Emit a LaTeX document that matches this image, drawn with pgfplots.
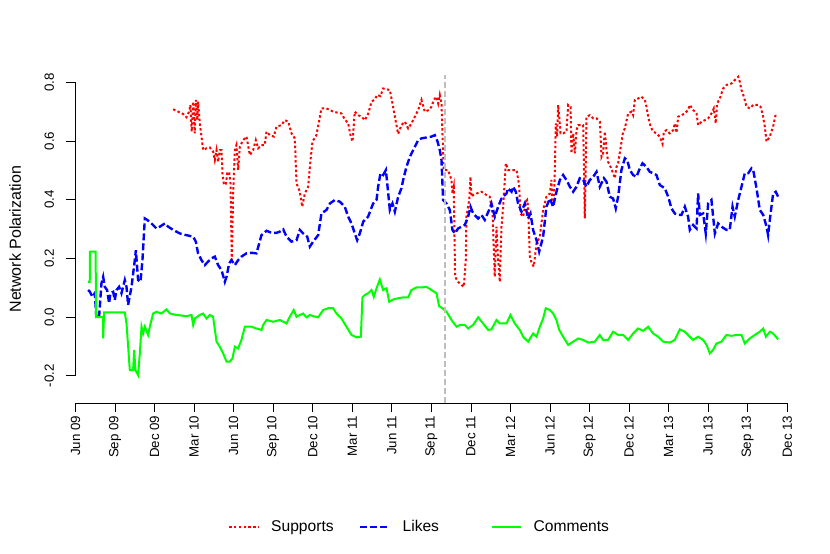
\documentclass[border=0pt]{standalone}
\usepackage{pgfplots}
\pgfplotsset{compat=1.18}
\usepackage{fontspec}
\setmainfont{Liberation Sans}
\definecolor{sred}{RGB}{255,0,0}
\definecolor{sblue}{RGB}{0,0,255}
\definecolor{sgreen}{RGB}{0,255,0}
\definecolor{sgray}{RGB}{190,190,190}
\begin{document}
\begin{tikzpicture}
\useasboundingbox (0bp,0bp) rectangle (830bp,554bp);
\begin{axis}[
  at={(75.5bp,150.7bp)}, anchor=south west,
  scale only axis, width=724.9bp, height=328.3bp,
  xmin=0, xmax=55, ymin=-0.294, ymax=0.825,
  clip=false,
  axis line style={draw=none},
  tick pos=left,
  tick align=outside,
  major tick length=9bp,
  every tick/.style={black, line width=0.8bp},
  xtick={0,3,6,9,12,15,18,21,24,27,30,33,36,39,42,45,48,51,54},
  xticklabels={Jun 09,Sep 09,Dec 09,Mar 10,Jun 10,Sep 10,Dec 10,Mar 11,Jun 11,Sep 11,Dec 11,Mar 12,Jun 12,Sep 12,Dec 12,Mar 13,Jun 13,Sep 13,Dec 13},
  ytick={-0.2,0,0.2,0.4,0.6,0.8},
  yticklabels={-0.2,0.0,0.2,0.4,0.6,0.8},
  tick label style={font=\fontsize{13.3bp}{15bp}\selectfont},
  xticklabel style={rotate=90, anchor=east},
  yticklabel style={rotate=90, anchor=south},
  yticklabel shift=9bp,
  ylabel={Network Polarization},
  every axis y label/.style={at={(axis description cs:-0.0752,0.5)}, rotate=90, anchor=base, font=\fontsize{16bp}{18bp}\selectfont},
  legend columns=3,
  legend style={at={(axis description cs:0.2104,-0.377)}, anchor=west, draw=none, fill=none, inner sep=0pt,
    font=\fontsize{15.6bp}{18bp}\selectfont,
    /tikz/every odd column/.append style={column sep=12bp},
    nodes={inner sep=0pt}},
  legend image code/.code={\draw[#1] (0bp,0bp) -- (29bp,0bp);},
]
\draw[black, line width=0.8bp] (axis cs:0,-0.294) -- (axis cs:54,-0.294);
\draw[black, line width=0.8bp] (axis cs:0,-0.2) -- (axis cs:0,0.8);

\addplot[sred, line width=2bp, dash pattern=on 2.4bp off 2.4bp] coordinates {
(7.41,0.708)(7.79,0.700)(8.17,0.692)(8.42,0.681)(8.62,0.700)(8.72,0.723)(8.82,0.632)(8.93,0.734)(9.05,0.626)(9.13,0.740)(9.23,0.671)(9.30,0.734)(9.43,0.660)(9.56,0.615)(9.68,0.569)(9.94,0.575)(10.19,0.578)(10.44,0.564)(10.57,0.535)(10.70,0.569)(10.82,0.529)(10.95,0.569)(11.08,0.569)(11.15,0.490)(11.25,0.456)(11.40,0.450)(11.51,0.490)(11.66,0.495)(11.76,0.456)(11.86,0.194)(11.96,0.421)(12.09,0.569)(12.21,0.586)(12.34,0.501)(12.47,0.581)(12.72,0.603)(12.97,0.615)(13.23,0.552)(13.48,0.569)(13.68,0.603)(13.86,0.575)(14.11,0.586)(14.36,0.586)(14.49,0.632)(14.74,0.620)(15.05,0.615)(15.25,0.649)(15.63,0.654)(15.88,0.671)(16.14,0.666)(16.39,0.626)(16.64,0.609)(16.77,0.456)(17.02,0.427)(17.20,0.376)(17.40,0.421)(17.65,0.444)(17.83,0.535)(17.98,0.598)(18.28,0.620)(18.66,0.711)(19.04,0.711)(19.55,0.700)(19.93,0.696)(20.18,0.694)(20.43,0.674)(20.69,0.660)(20.86,0.620)(21.02,0.598)(21.19,0.700)(21.45,0.688)(21.70,0.683)(21.95,0.671)(22.20,0.692)(22.46,0.734)(22.71,0.742)(22.89,0.757)(23.14,0.753)(23.34,0.779)(23.60,0.776)(23.85,0.774)(24.05,0.728)(24.23,0.683)(24.48,0.624)(24.73,0.654)(24.99,0.666)(25.24,0.643)(25.49,0.660)(25.75,0.683)(26.00,0.706)(26.25,0.740)(26.50,0.700)(26.83,0.706)(27.01,0.717)(27.19,0.740)(27.39,0.751)(27.52,0.728)(27.64,0.757)(27.77,0.728)(27.89,0.558)(27.94,0.501)(28.27,0.501)(28.53,0.467)(28.60,0.421)(28.70,0.444)(28.80,0.137)(29.03,0.120)(29.29,0.109)(29.46,0.103)(29.61,0.194)(29.66,0.342)(29.87,0.399)(29.97,0.478)(30.04,0.410)(30.17,0.416)(30.42,0.421)(30.80,0.427)(31.18,0.416)(31.43,0.410)(31.64,0.353)(31.81,0.137)(31.94,0.308)(32.07,0.194)(32.19,0.120)(32.32,0.308)(32.45,0.376)(32.57,0.467)(32.65,0.524)(32.83,0.501)(33.46,0.501)(33.66,0.450)(33.76,0.353)(33.96,0.342)(34.17,0.393)(34.27,0.399)(34.34,0.376)(34.47,0.206)(34.62,0.183)(34.77,0.172)(34.98,0.251)(35.23,0.274)(35.48,0.365)(35.73,0.410)(35.99,0.421)(36.11,0.467)(36.19,0.376)(36.29,0.387)(36.37,0.501)(36.44,0.660)(36.54,0.615)(36.62,0.723)(36.70,0.683)(36.80,0.626)(37.00,0.626)(37.25,0.632)(37.38,0.723)(37.56,0.717)(37.63,0.558)(37.76,0.626)(37.89,0.558)(38.01,0.637)(38.14,0.654)(38.52,0.654)(38.64,0.336)(38.72,0.535)(38.77,0.683)(39.02,0.688)(39.28,0.677)(39.53,0.677)(39.78,0.666)(39.91,0.546)(40.03,0.558)(40.16,0.632)(40.29,0.569)(40.41,0.529)(40.54,0.518)(40.79,0.490)(40.92,0.473)(41.05,0.512)(41.17,0.524)(41.43,0.598)(41.55,0.632)(41.68,0.643)(41.93,0.694)(42.18,0.700)(42.31,0.688)(42.44,0.740)(42.69,0.745)(42.94,0.751)(43.20,0.740)(43.32,0.717)(43.45,0.683)(43.63,0.649)(43.83,0.632)(44.08,0.626)(44.33,0.615)(44.54,0.590)(44.64,0.632)(44.84,0.637)(45.09,0.626)(45.35,0.637)(45.47,0.660)(45.60,0.628)(45.73,0.683)(45.98,0.688)(46.23,0.694)(46.48,0.706)(46.61,0.723)(46.86,0.706)(47.12,0.694)(47.24,0.654)(47.50,0.666)(47.75,0.671)(48.00,0.677)(48.25,0.694)(48.43,0.711)(48.58,0.660)(48.68,0.728)(48.89,0.745)(49.14,0.779)(49.39,0.791)(49.77,0.796)(50.03,0.808)(50.28,0.819)(50.40,0.802)(50.53,0.774)(50.71,0.751)(50.91,0.717)(51.16,0.711)(51.42,0.723)(51.80,0.723)(51.97,0.717)(52.12,0.694)(52.30,0.649)(52.43,0.598)(52.68,0.615)(52.93,0.649)(53.14,0.694)
};
\addlegendentry{\makebox[88bp][l]{Supports}}

\addplot[sblue, line width=2.4bp, dash pattern=on 7bp off 3bp] coordinates {
(0.96,0.092)(1.09,0.086)(1.29,0.069)(1.46,0.081)(1.59,-0.005)(1.79,0.001)(1.97,0.115)(2.10,0.137)(2.22,0.103)(2.40,0.092)(2.55,0.047)(2.65,0.081)(2.86,0.086)(2.98,0.058)(3.11,0.092)(3.31,0.103)(3.49,0.081)(3.74,0.126)(3.87,0.103)(3.99,0.041)(4.25,0.103)(4.50,0.194)(4.58,0.228)(4.75,0.126)(4.93,0.120)(5.08,0.194)(5.26,0.336)(5.44,0.331)(5.76,0.319)(6.14,0.302)(6.40,0.308)(6.78,0.319)(7.03,0.308)(7.41,0.297)(7.91,0.285)(8.42,0.279)(8.93,0.274)(9.13,0.257)(9.30,0.217)(9.56,0.194)(9.81,0.177)(10.06,0.189)(10.32,0.200)(10.57,0.206)(10.82,0.177)(11.08,0.160)(11.33,0.120)(11.46,0.137)(11.66,0.183)(11.83,0.194)(12.09,0.177)(12.34,0.194)(12.59,0.206)(12.97,0.217)(13.35,0.219)(13.73,0.217)(14.11,0.279)(14.49,0.294)(14.87,0.287)(15.25,0.287)(15.50,0.291)(15.76,0.299)(16.01,0.274)(16.39,0.257)(16.77,0.262)(17.02,0.297)(17.27,0.285)(17.58,0.274)(17.78,0.240)(18.03,0.257)(18.41,0.279)(18.66,0.353)(19.04,0.365)(19.30,0.387)(19.68,0.399)(20.06,0.393)(20.43,0.376)(20.69,0.342)(20.94,0.319)(21.19,0.285)(21.37,0.262)(21.57,0.285)(21.83,0.325)(22.20,0.342)(22.58,0.387)(22.84,0.399)(22.96,0.444)(23.14,0.490)(23.34,0.484)(23.55,0.501)(23.65,0.456)(23.85,0.365)(24.05,0.387)(24.23,0.359)(24.48,0.410)(24.73,0.439)(24.86,0.467)(25.11,0.512)(25.37,0.546)(25.62,0.569)(26.00,0.603)(26.25,0.609)(26.63,0.612)(27.01,0.615)(27.26,0.620)(27.47,0.598)(27.64,0.569)(27.77,0.535)(27.89,0.399)(28.15,0.387)(28.40,0.365)(28.60,0.297)(28.78,0.285)(29.03,0.302)(29.29,0.308)(29.54,0.314)(29.79,0.342)(29.97,0.376)(30.17,0.353)(30.55,0.336)(30.80,0.348)(31.05,0.331)(31.38,0.365)(31.56,0.387)(31.81,0.342)(32.07,0.376)(32.32,0.404)(32.70,0.421)(32.82,0.439)(33.08,0.427)(33.20,0.444)(33.41,0.427)(33.58,0.387)(33.84,0.359)(34.09,0.387)(34.34,0.336)(34.52,0.353)(34.72,0.297)(34.98,0.262)(35.18,0.223)(35.48,0.274)(35.73,0.376)(35.99,0.404)(36.24,0.376)(36.49,0.427)(36.75,0.467)(37.00,0.484)(37.25,0.467)(37.51,0.444)(37.76,0.427)(38.01,0.444)(38.26,0.473)(38.52,0.467)(38.77,0.444)(39.02,0.467)(39.28,0.478)(39.53,0.495)(39.78,0.444)(40.09,0.473)(40.29,0.461)(40.54,0.410)(40.79,0.404)(40.99,0.370)(41.17,0.410)(41.42,0.501)(41.68,0.541)(41.86,0.535)(42.06,0.501)(42.31,0.484)(42.56,0.478)(42.82,0.507)(43.02,0.524)(43.32,0.512)(43.57,0.495)(43.83,0.490)(44.08,0.484)(44.33,0.450)(44.71,0.439)(44.97,0.410)(45.22,0.370)(45.47,0.353)(45.72,0.348)(45.98,0.348)(46.23,0.376)(46.48,0.342)(46.61,0.297)(46.86,0.314)(47.12,0.302)(47.24,0.421)(47.37,0.348)(47.62,0.353)(47.82,0.285)(48.00,0.387)(48.25,0.399)(48.51,0.285)(48.76,0.319)(49.01,0.308)(49.39,0.297)(49.64,0.297)(49.85,0.376)(50.02,0.342)(50.28,0.399)(50.53,0.444)(50.78,0.490)(51.04,0.490)(51.29,0.507)(51.42,0.501)(51.67,0.439)(51.92,0.365)(52.18,0.348)(52.43,0.308)(52.55,0.279)(52.68,0.331)(52.93,0.421)(53.13,0.427)(53.31,0.410)
};
\addlegendentry{\makebox[88bp][l]{Likes}}

\addplot[sgreen, line width=2bp] coordinates {
(0.96,0.120)(1.08,0.120)(1.10,0.223)(1.53,0.223)(1.55,0.0)(2.09,0.0)(2.10,-0.073)(2.17,0.016)(3.74,0.016)(3.87,-0.022)(4.12,-0.181)(4.37,-0.181)(4.45,-0.112)(4.55,-0.181)(4.75,-0.198)(4.88,-0.124)(5.01,-0.033)(5.13,-0.056)(5.26,-0.033)(5.51,-0.061)(5.64,-0.033)(5.89,0.012)(6.14,0.018)(6.52,0.012)(6.90,0.026)(7.16,0.012)(7.66,0.007)(8.42,0.003)(8.80,0.007)(8.93,-0.027)(9.05,-0.005)(9.43,0.007)(9.68,0.012)(9.94,-0.005)(10.19,0.007)(10.44,0.001)(10.70,-0.084)(10.95,-0.101)(11.20,-0.124)(11.46,-0.152)(11.71,-0.152)(11.91,-0.141)(12.09,-0.101)(12.34,-0.107)(12.59,-0.078)(12.85,-0.033)(13.35,-0.033)(13.73,-0.039)(14.11,-0.044)(14.24,-0.027)(14.49,-0.010)(15.00,-0.016)(15.50,-0.010)(16.01,-0.022)(16.26,0.001)(16.56,0.024)(16.77,0.001)(17.02,0.007)(17.27,0.012)(17.53,-0.001)(17.78,0.007)(18.03,0.003)(18.41,-0.001)(18.79,0.024)(19.17,0.030)(19.55,0.030)(19.80,0.012)(20.18,-0.005)(20.56,-0.033)(20.94,-0.061)(21.32,-0.069)(21.65,-0.067)(21.77,0.067)(21.95,0.075)(22.20,0.081)(22.46,0.092)(22.63,0.069)(22.84,0.098)(23.09,0.128)(23.34,0.092)(23.60,0.098)(23.80,0.052)(24.10,0.060)(24.48,0.064)(24.86,0.067)(25.24,0.067)(25.49,0.092)(25.87,0.101)(26.25,0.101)(26.63,0.103)(27.01,0.092)(27.39,0.081)(27.59,0.037)(27.84,0.030)(28.15,0.018)(28.53,-0.010)(28.91,-0.033)(29.16,-0.027)(29.54,-0.027)(29.79,-0.039)(30.17,-0.027)(30.55,-0.001)(30.93,-0.022)(31.31,-0.044)(31.56,-0.042)(31.94,-0.010)(32.19,-0.022)(32.70,-0.022)(33.00,0.007)(33.33,-0.022)(33.71,-0.044)(33.96,-0.067)(34.34,-0.084)(34.72,-0.056)(34.98,-0.067)(35.23,-0.033)(35.48,-0.005)(35.68,0.030)(35.99,0.024)(36.24,0.012)(36.49,-0.010)(36.70,-0.044)(37.00,-0.067)(37.38,-0.095)(37.76,-0.084)(38.14,-0.073)(38.52,-0.078)(38.90,-0.087)(39.40,-0.084)(39.78,-0.061)(40.03,-0.078)(40.41,-0.078)(40.79,-0.050)(41.17,-0.061)(41.55,-0.061)(41.93,-0.078)(42.31,-0.056)(42.69,-0.039)(43.07,-0.047)(43.45,-0.033)(43.83,-0.056)(44.21,-0.067)(44.59,-0.084)(45.09,-0.087)(45.47,-0.078)(45.85,-0.042)(46.23,-0.050)(46.61,-0.067)(46.86,-0.078)(47.24,-0.067)(47.62,-0.078)(47.88,-0.095)(48.13,-0.124)(48.38,-0.112)(48.63,-0.090)(49.01,-0.084)(49.39,-0.061)(49.77,-0.064)(50.15,-0.061)(50.53,-0.061)(50.78,-0.090)(51.16,-0.073)(51.54,-0.061)(51.92,-0.050)(52.18,-0.039)(52.38,-0.067)(52.68,-0.050)(52.93,-0.056)(53.31,-0.076)
};
\addlegendentry{Comments}

\addplot[sgray, line width=2.4bp, dash pattern=on 6bp off 3bp, forget plot] coordinates {(28.02,-0.294) (28.02,0.825)};
\end{axis}
\end{tikzpicture}
\end{document}
